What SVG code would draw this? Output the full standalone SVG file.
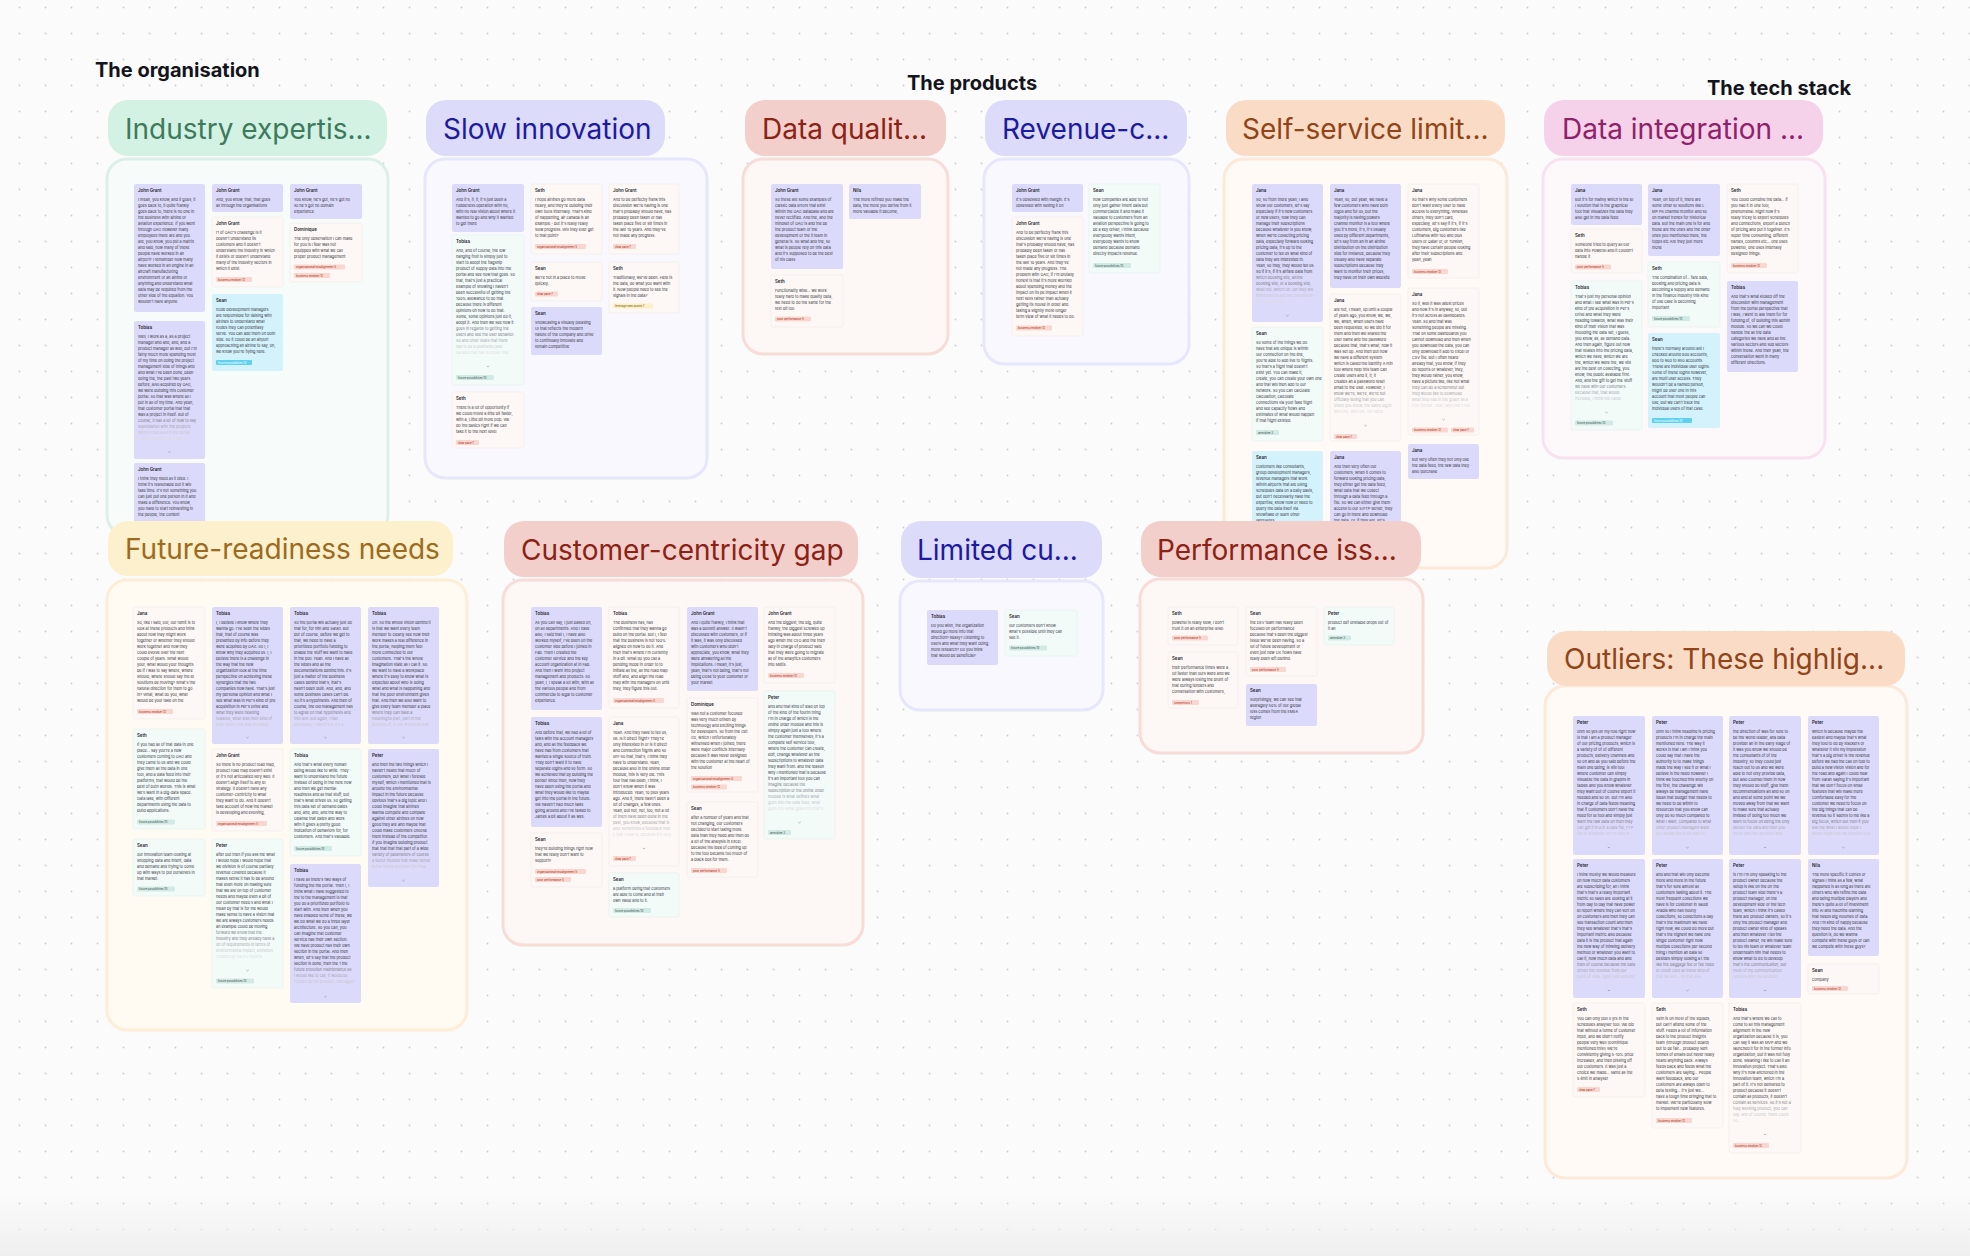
<svg xmlns="http://www.w3.org/2000/svg" width="1970" height="1256" viewBox="0 0 1970 1256">
<defs>
<pattern id="dots" width="26" height="26" patternUnits="userSpaceOnUse"><circle cx="19.5" cy="7.5" r="1" fill="#cfcfd4"/></pattern>
<linearGradient id="btm" x1="0" y1="0" x2="0" y2="1"><stop offset="0" stop-color="#f1f1f1" stop-opacity="0"/><stop offset="1" stop-color="#efefef"/></linearGradient>
<style>
.ttl{font:700 20px Inter,"Liberation Sans",sans-serif;fill:#14141c}
.hd{rx:20px}
.ht{font:400 28px Inter,"Liberation Sans",sans-serif}
.box{stroke-width:3px;rx:20px}
.cp{fill:#dcdafb;rx:2px}
.cc{fill:#fdf8f5;stroke:#f2ebe7;stroke-width:.6px;rx:2px}
.cm{fill:#f3fbf9;stroke:#e3f1ed;stroke-width:.6px;rx:2px}
.cy{fill:#d3f2fb;rx:2px}
.n{font:600 4.4px Inter,"Liberation Sans",sans-serif;fill:#23232b}
.b{font:400 3.8px Inter,"Liberation Sans",sans-serif;fill:#35353e}
.f1{fill:#7c7c86}.f2{fill:#a6a6b0}.f3{fill:#c8c8ce}.f4{fill:#dddde2}
.tr{fill:#f9d7d0;rx:1.2px}.tg{fill:#d3e9e3;rx:1.2px}.ty{fill:#fdefc8;rx:1.2px}.tc{fill:#5fd1ee;rx:1.2px}
.t{font:500 2.8px Inter,"Liberation Sans",sans-serif}
.tR{fill:#b3412d}.tG{fill:#48655e}.tY{fill:#8a6a1c}.tC{fill:#eafcff}
.ch{fill:none;stroke:#6c6c76;stroke-width:.45px}
</style>
</defs>
<g id="background">
<rect width="1970" height="1256" fill="#fbfbfb"/>
<rect width="1970" height="1256" fill="url(#dots)"/>
<rect y="1190" width="1970" height="66" fill="url(#btm)"/>
</g>
<g id="titles">
<text class="ttl" x="95" y="77">The organisation</text>
<text class="ttl" x="907" y="90">The products</text>
<text class="ttl" x="1707" y="95">The tech stack</text>
</g>
<g id="connectors"/>

<!-- ============ Industry expertise ============ -->
<g id="cluster-industry">
<rect class="box" x="107" y="159" width="281" height="376" fill="#f7fcfa" stroke="#dcefe9"/>
<g id="ie-c1" transform="translate(134 184)"><rect class="cp" width="71" height="128"/><text class="n" x="4" y="7.5">John Grant</text><text class="b" y="16.5"><tspan x="4">I mean, you know, and it goes, it</tspan><tspan x="4" dy="6">goes back to, it quite frankly</tspan><tspan x="4" dy="6">goes back to, there is no one in</tspan><tspan x="4" dy="6">the business with airline or</tspan><tspan x="4" dy="6">aviation experience. If you went</tspan><tspan x="4" dy="6">through OAG however many</tspan><tspan x="4" dy="6">employees there are and you</tspan><tspan x="4" dy="6">are, you know, you put a matrix</tspan><tspan x="4" dy="6">and said, how many of these</tspan><tspan x="4" dy="6">people have worked in an</tspan><tspan x="4" dy="6">airport? I remember how many</tspan><tspan x="4" dy="6">have worked in an engine in an</tspan><tspan x="4" dy="6">aircraft manufacturing</tspan><tspan x="4" dy="6">environment or an airline or</tspan><tspan x="4" dy="6">anything and understand what</tspan><tspan x="4" dy="6">data may be required from the</tspan><tspan x="4" dy="6">other side of the equation. You</tspan><tspan x="4" dy="6">wouldn't have anyone</tspan></text></g>
<g id="ie-c2" transform="translate(134 321)"><rect class="cp" width="71" height="138"/><text class="n" x="4" y="7.5">Tobias</text><text class="b" y="16.5"><tspan x="4">Well, I work as a, as a project</tspan><tspan x="4" dy="6">manager and and, and, and a</tspan><tspan x="4" dy="6">product manager as well, but I'm</tspan><tspan x="4" dy="6">fairly much more spending most</tspan><tspan x="4" dy="6">of my time on doing the project</tspan><tspan x="4" dy="6">management side of things and</tspan><tspan x="4" dy="6">and what I've been done, been</tspan><tspan x="4" dy="6">doing the, the past two years</tspan><tspan x="4" dy="6">before, also acquired by OAG,</tspan><tspan x="4" dy="6">we were building this customer</tspan><tspan x="4" dy="6">portal. So that was where all I</tspan><tspan x="4" dy="6">put in all of my time. And yeah,</tspan><tspan x="4" dy="6">that customer portal that that</tspan><tspan x="4" dy="6">was a project in itself. But of</tspan><tspan x="4" dy="6" class="f1">course, it has a lot of how to say</tspan><tspan x="4" dy="6" class="f2">subsidiaries with the projects</tspan><tspan x="4" dy="6" class="f3">within it because it the portal</tspan><tspan x="4" dy="6" class="f4">shows the whole is what I</tspan></text><path class="ch" d="M34.3 130.5l1.2 1l1.2 -1"/></g>
<g id="ie-c3" transform="translate(134 463)"><rect class="cp" width="71" height="75"/><text class="n" x="4" y="7.5">John Grant</text><text class="b" y="16.5"><tspan x="4">I think they need as it died. I</tspan><tspan x="4" dy="6">think it's reasonable but it will</tspan><tspan x="4" dy="6">take time. It's not something you</tspan><tspan x="4" dy="6">can just put one person in it and</tspan><tspan x="4" dy="6">make a difference. You know,</tspan><tspan x="4" dy="6">you have to start reinvesting in</tspan><tspan x="4" dy="6">the people, the context</tspan></text></g>
<g id="ie-c4" transform="translate(212 184)"><rect class="cp" width="71" height="28"/><text class="n" x="4" y="7.5">John Grant</text><text class="b" y="16.5"><tspan x="4">And, you know, that, that goes</tspan><tspan x="4" dy="6">all through the organisations</tspan></text></g>
<g id="ie-c5" transform="translate(212 217)"><rect class="cc" width="71" height="70"/><text class="n" x="4" y="7.5">John Grant</text><text class="b" y="16.5"><tspan x="4">r1 of OAG's challenge is it</tspan><tspan x="4" dy="6">doesn't understand its</tspan><tspan x="4" dy="6">customers and it doesn't</tspan><tspan x="4" dy="6">understand the industry in which</tspan><tspan x="4" dy="6">it exists or doesn't understand</tspan><tspan x="4" dy="6">many of the industry sectors in</tspan><tspan x="4" dy="6">which it exist.</tspan></text><g transform="translate(4 60)"><rect class="tr" width="36" height="5"/><text class="t tR" x="2" y="3.5">business mindset 12</text></g></g>
<g id="ie-c6" transform="translate(212 294)"><rect class="cy" width="71" height="77"/><text class="n" x="4" y="7.5">Sean</text><text class="b" y="16.5"><tspan x="4">route development managers</tspan><tspan x="4" dy="6">are responsible for liaising with</tspan><tspan x="4" dy="6">airlines to understand what</tspan><tspan x="4" dy="6">routes they can potentially</tspan><tspan x="4" dy="6">serve. You can add them on both</tspan><tspan x="4" dy="6">side. So it could be an airport</tspan><tspan x="4" dy="6">approaching an airline to say, oh,</tspan><tspan x="4" dy="6">we know you're flying here.</tspan></text><g transform="translate(4 66)"><rect class="tc" width="36" height="5"/><text class="t tC" x="2" y="3.5">future possibilities 10</text></g></g>
<g id="ie-c7" transform="translate(290 184)"><rect class="cp" width="72" height="35"/><text class="n" x="4" y="7.5">John Grant</text><text class="b" y="16.5"><tspan x="4">You know, he's got, he's got no</tspan><tspan x="4" dy="6">so he's got no domain</tspan><tspan x="4" dy="6">experience</tspan></text></g>
<g id="ie-c8" transform="translate(290 223)"><rect class="cc" width="72" height="59"/><text class="n" x="4" y="7.5">Dominique</text><text class="b" y="16.5"><tspan x="4">The only observation I can make</tspan><tspan x="4" dy="6">for you is I fear was not</tspan><tspan x="4" dy="6">equipped with what we call</tspan><tspan x="4" dy="6">proper product management</tspan></text><g transform="translate(4 41.5)"><rect class="tr" width="51" height="5"/><text class="t tR" x="2" y="3.5">organisational misalignment 5</text></g><g transform="translate(4 50)"><rect class="tr" width="36" height="5"/><text class="t tR" x="2" y="3.5">business mindset 12</text></g></g>
<g id="ie-header"><rect class="hd" x="108" y="100" width="279" height="56" fill="#d3f2e4"/><text class="ht" x="125" y="139" fill="#3d7a5c">Industry expertis...</text></g>
</g>

<!-- ============ Slow innovation ============ -->
<g id="cluster-slow-innovation">
<rect class="box" x="425" y="159" width="282" height="319" fill="#f8f8fe" stroke="#e6e6fc"/>
<g id="si-c1" transform="translate(452 184)"><rect class="cp" width="72" height="48"/><text class="n" x="4" y="7.5">John Grant</text><text class="b" y="16.5"><tspan x="4">And it's, it, it, it's just been a</tspan><tspan x="4" dy="6">rudderless operation with no,</tspan><tspan x="4" dy="6">with no real vision about where it</tspan><tspan x="4" dy="6">wanted to go and why it wanted</tspan><tspan x="4" dy="6">to get there</tspan></text></g>
<g id="si-c2" transform="translate(452 235)"><rect class="cm" width="72" height="150"/><text class="n" x="4" y="7.5">Tobias</text><text class="b" y="16.5"><tspan x="4">And, and of course, the low</tspan><tspan x="4" dy="6">hanging fruit is simply just to</tspan><tspan x="4" dy="6">start to adopt the flagship</tspan><tspan x="4" dy="6">product of supply data into the</tspan><tspan x="4" dy="6">portal and see how that goes. So</tspan><tspan x="4" dy="6">that, that's just a practical</tspan><tspan x="4" dy="6">example of showing I haven't</tspan><tspan x="4" dy="6">been successful of getting the</tspan><tspan x="4" dy="6">100% allowance to do that.</tspan><tspan x="4" dy="6">because there is different</tspan><tspan x="4" dy="6">opinions on how to do that.</tspan><tspan x="4" dy="6">Some, some opinions just do it,</tspan><tspan x="4" dy="6">adopt it. And then we see how it</tspan><tspan x="4" dy="6" class="f1">goes in regards to getting the</tspan><tspan x="4" dy="6" class="f1">users and see the user behavior.</tspan><tspan x="4" dy="6" class="f2">So and other sides that there</tspan><tspan x="4" dy="6" class="f3">has to be a business case</tspan><tspan x="4" dy="6" class="f4">backed that has to prove that.</tspan></text><path class="ch" d="M34.8 131l1.2 1l1.2 -1"/><g transform="translate(4 140)"><rect class="tg" width="38" height="5"/><text class="t tG" x="2" y="3.5">future possibilities 10</text></g></g>
<g id="si-c3" transform="translate(452 392)"><rect class="cc" width="72" height="56"/><text class="n" x="4" y="7.5">Seth</text><text class="b" y="16.5"><tspan x="4">There is a lot of opportunity if</tspan><tspan x="4" dy="6">we could move a little bit faster,</tspan><tspan x="4" dy="6">with a, Little bit more pop. We</tspan><tspan x="4" dy="6">do the basics right if we can</tspan><tspan x="4" dy="6">take it to the next level</tspan></text><g transform="translate(4 48)"><rect class="tr" width="23" height="5"/><text class="t tR" x="2" y="3.5">slow pace 7</text></g></g>
<g id="si-c4" transform="translate(531 184)"><rect class="cc" width="71" height="70"/><text class="n" x="4" y="7.5">Seth</text><text class="b" y="16.5"><tspan x="4">I hope airlines go more data</tspan><tspan x="4" dy="6">heavy, and they're building their</tspan><tspan x="4" dy="6">own tools internally. That's kind</tspan><tspan x="4" dy="6">of happening, air canada is an</tspan><tspan x="4" dy="6">example - but it's really really</tspan><tspan x="4" dy="6">slow progress. Will they ever get</tspan><tspan x="4" dy="6">to that point?</tspan></text><g transform="translate(4 60)"><rect class="tr" width="51" height="5"/><text class="t tR" x="2" y="3.5">organisational misalignment 5</text></g></g>
<g id="si-c5" transform="translate(531 262)"><rect class="cc" width="71" height="39"/><text class="n" x="4" y="7.5">Sean</text><text class="b" y="16.5"><tspan x="4">we're not in a place to move</tspan><tspan x="4" dy="6">quickly.</tspan></text><g transform="translate(4 29.5)"><rect class="tr" width="23" height="5"/><text class="t tR" x="2" y="3.5">slow pace 7</text></g></g>
<g id="si-c6" transform="translate(531 307)"><rect class="cp" width="71" height="48"/><text class="n" x="4" y="7.5">Sean</text><text class="b" y="16.5"><tspan x="4">Showcasing a visually pleasing</tspan><tspan x="4" dy="6">UI that reflects the modern</tspan><tspan x="4" dy="6">nature of the company and drive</tspan><tspan x="4" dy="6">to continually innovate and</tspan><tspan x="4" dy="6">remain competitive</tspan></text></g>
<g id="si-c7" transform="translate(609 184)"><rect class="cc" width="70" height="70"/><text class="n" x="4" y="7.5">John Grant</text><text class="b" y="16.5"><tspan x="4">And to be perfectly frank this</tspan><tspan x="4" dy="6">discussion we're having is one</tspan><tspan x="4" dy="6">that's probably should have, has</tspan><tspan x="4" dy="6">probably been taken or has</tspan><tspan x="4" dy="6">taken place five or six times in</tspan><tspan x="4" dy="6">the last 10 years. And they've</tspan><tspan x="4" dy="6">not made any progress.</tspan></text><g transform="translate(4 60)"><rect class="tr" width="23" height="5"/><text class="t tR" x="2" y="3.5">slow pace 7</text></g></g>
<g id="si-c8" transform="translate(609 262)"><rect class="cc" width="70" height="51"/><text class="n" x="4" y="7.5">Seth</text><text class="b" y="16.5"><tspan x="4">Traditionally, we've been. Here is</tspan><tspan x="4" dy="6">the data, do what you want with</tspan><tspan x="4" dy="6">it. Now people need to see the</tspan><tspan x="4" dy="6">signals in the data?</tspan></text><g transform="translate(4 41.5)"><rect class="ty" width="40" height="5"/><text class="t tY" x="2" y="3.5">leverage own assets 1</text></g></g>
<g id="si-header"><rect class="hd" x="426" y="100" width="239" height="56" fill="#dcdbfa"/><text class="ht" x="443" y="139" fill="#1c1aa0">Slow innovation</text></g>
</g>

<!-- ============ Data quality ============ -->
<g id="cluster-data-quality">
<rect class="box" x="743" y="159" width="205" height="195" fill="#fdf7f6" stroke="#f8dcd8"/>
<g id="dq-c1" transform="translate(771 184)"><rect class="cp" width="72" height="85"/><text class="n" x="4" y="7.5">John Grant</text><text class="b" y="16.5"><tspan x="4">So these are some examples of</tspan><tspan x="4" dy="6">classic data errors that exist</tspan><tspan x="4" dy="6">within the OAG database and are</tspan><tspan x="4" dy="6">never rectified. And the, and the</tspan><tspan x="4" dy="6">mindset of OAG is and the be</tspan><tspan x="4" dy="6">the product team or the</tspan><tspan x="4" dy="6">development or the it team in</tspan><tspan x="4" dy="6">general is. So what and the, so</tspan><tspan x="4" dy="6">what is people rely on this data</tspan><tspan x="4" dy="6">and it's supposed to be the best</tspan><tspan x="4" dy="6">of his class</tspan></text></g>
<g id="dq-c2" transform="translate(849 184)"><rect class="cp" width="72" height="35"/><text class="n" x="4" y="7.5">Nils</text><text class="b" y="16.5"><tspan x="4">The more refined you make the</tspan><tspan x="4" dy="6">data, the more you derive from it</tspan><tspan x="4" dy="6">more valuable it become,</tspan></text></g>
<g id="dq-c3" transform="translate(771 275)"><rect class="cc" width="72" height="52"/><text class="n" x="4" y="7.5">Seth</text><text class="b" y="16.5"><tspan x="4">Functionality wise... we work</tspan><tspan x="4" dy="6">really hard to make quality data,</tspan><tspan x="4" dy="6">we need to do the same for the</tspan><tspan x="4" dy="6">rest bit too</tspan></text><g transform="translate(4 41.5)"><rect class="tr" width="36" height="5"/><text class="t tR" x="2" y="3.5">poor performance 5</text></g></g>
<g id="dq-header"><rect class="hd" x="745" y="100" width="201" height="56" fill="#f3cfcb"/><text class="ht" x="762" y="139" fill="#8a2215">Data qualit...</text></g>
</g>

<!-- ============ Revenue ============ -->
<g id="cluster-revenue">
<rect class="box" x="984" y="159" width="205" height="205" fill="#f8f8fe" stroke="#e6e6fc"/>
<g id="rv-c1" transform="translate(1012 184)"><rect class="cp" width="71" height="28"/><text class="n" x="4" y="7.5">John Grant</text><text class="b" y="16.5"><tspan x="4">It's obsessed with margin. It's</tspan><tspan x="4" dy="6">obsessed with selling it on</tspan></text></g>
<g id="rv-c2" transform="translate(1012 217)"><rect class="cc" width="71" height="119"/><text class="n" x="4" y="7.5">John Grant</text><text class="b" y="16.5"><tspan x="4">And to be perfectly frank this</tspan><tspan x="4" dy="6">discussion we're having is one</tspan><tspan x="4" dy="6">that's probably should have, has</tspan><tspan x="4" dy="6">probably been taken or has</tspan><tspan x="4" dy="6">taken place five or six times in</tspan><tspan x="4" dy="6">the last 10 years. And they've</tspan><tspan x="4" dy="6">not made any progress. The</tspan><tspan x="4" dy="6">problem with OAG, if I'm brutally</tspan><tspan x="4" dy="6">honest is that it's more worried</tspan><tspan x="4" dy="6">about spending money and the</tspan><tspan x="4" dy="6">impact on its pe impact when it</tspan><tspan x="4" dy="6">next sells rather than actually</tspan><tspan x="4" dy="6">getting its house in order and</tspan><tspan x="4" dy="6">taking a slightly more longer</tspan><tspan x="4" dy="6">term view of what it needs to do.</tspan></text><g transform="translate(4 108.5)"><rect class="tr" width="36" height="5"/><text class="t tR" x="2" y="3.5">business mindset 12</text></g></g>
<g id="rv-c3" transform="translate(1089 184)"><rect class="cm" width="71" height="89"/><text class="n" x="4" y="7.5">Sean</text><text class="b" y="16.5"><tspan x="4">how companies are able to not</tspan><tspan x="4" dy="6">only just gather intent data but</tspan><tspan x="4" dy="6">commercialize it and make it</tspan><tspan x="4" dy="6">valuable to customers from an</tspan><tspan x="4" dy="6">aviation perspective is going to</tspan><tspan x="4" dy="6">be a key driver, I think because</tspan><tspan x="4" dy="6">everybody wants intent,</tspan><tspan x="4" dy="6">everybody wants to know</tspan><tspan x="4" dy="6">demand because demand</tspan><tspan x="4" dy="6">directly impacts revenue.</tspan></text><g transform="translate(4 79)"><rect class="tg" width="38" height="5"/><text class="t tG" x="2" y="3.5">future possibilities 10</text></g></g>
<g id="rv-header"><rect class="hd" x="985" y="100" width="202" height="56" fill="#dcdbfa"/><text class="ht" x="1002" y="139" fill="#1c1aa0">Revenue-c...</text></g>
</g>

<!-- ============ Self-service ============ -->
<g id="cluster-self-service">
<rect class="box" x="1224" y="159" width="283" height="409" fill="#fffaf6" stroke="#fde9d8"/>
<g id="ss-c1" transform="translate(1252 184)"><rect class="cp" width="71" height="138"/><text class="n" x="4" y="7.5">Jana</text><text class="b" y="16.5"><tspan x="4">So, so from there yeah, I also</tspan><tspan x="4" dy="6">show our customers, let's say</tspan><tspan x="4" dy="6">especially if it's new customers</tspan><tspan x="4" dy="6">or new users, how they can</tspan><tspan x="4" dy="6">manage their subscriptions</tspan><tspan x="4" dy="6">because whatever is you know,</tspan><tspan x="4" dy="6">when we're collecting pricing</tspan><tspan x="4" dy="6">data, especially forward looking</tspan><tspan x="4" dy="6">pricing data, it's up to the</tspan><tspan x="4" dy="6">customer to tell us what kind of</tspan><tspan x="4" dy="6">data they are interested in.</tspan><tspan x="4" dy="6">Yeah, so they, they would tell us.</tspan><tspan x="4" dy="6">So if it's, if it's airfare data from</tspan><tspan x="4" dy="6" class="f1">which booking site, airline</tspan><tspan x="4" dy="6" class="f1">booking site, or a booking site,</tspan><tspan x="4" dy="6" class="f2">what not, which on. OR they are</tspan><tspan x="4" dy="6" class="f3">interested in and the conditions?</tspan><tspan x="4" dy="6" class="f4">So they would be ...</tspan></text><path class="ch" d="M34.3 131l1.2 1l1.2 -1"/></g>
<g id="ss-c2" transform="translate(1252 327)"><rect class="cm" width="71" height="114"/><text class="n" x="4" y="7.5">Sean</text><text class="b" y="16.5"><tspan x="4">So some of the things we do</tspan><tspan x="4" dy="6">have that are unique is within</tspan><tspan x="4" dy="6">our connection on the line,</tspan><tspan x="4" dy="6">you're able to add live to flights.</tspan><tspan x="4" dy="6">So that's a flight that doesn't</tspan><tspan x="4" dy="6">exist yet. You can make it,</tspan><tspan x="4" dy="6">create, you can create your own one</tspan><tspan x="4" dy="6">and that will then add to our</tspan><tspan x="4" dy="6">network. So you can calculate</tspan><tspan x="4" dy="6">calculation, calculate</tspan><tspan x="4" dy="6">connections via your fake flight</tspan><tspan x="4" dy="6">and see capacity flows and</tspan><tspan x="4" dy="6">estimates of what would happen</tspan><tspan x="4" dy="6">if that flight existed.</tspan></text><g transform="translate(4 103)"><rect class="tg" width="23" height="5"/><text class="t tG" x="2" y="3.5">anecdote 3</text></g></g>
<g id="ss-c3" transform="translate(1252 451)"><rect class="cy" width="71" height="105"/><text class="n" x="4" y="7.5">Sean</text><text class="b" y="16.5"><tspan x="4">customers like consultants,</tspan><tspan x="4" dy="6">group development managers,</tspan><tspan x="4" dy="6">revenue managers that work</tspan><tspan x="4" dy="6">within airports that are using</tspan><tspan x="4" dy="6">schedules data on a daily basis,</tspan><tspan x="4" dy="6">but don't necessarily have the</tspan><tspan x="4" dy="6">expertise, know how or need to</tspan><tspan x="4" dy="6">query the data itself via</tspan><tspan x="4" dy="6">snowflake or learn other</tspan><tspan x="4" dy="6">languages</tspan></text></g>
<g id="ss-c4" transform="translate(1330 184)"><rect class="cp" width="71" height="104"/><text class="n" x="4" y="7.5">Jana</text><text class="b" y="16.5"><tspan x="4">Yeah, so, but yeah, we have a</tspan><tspan x="4" dy="6">few customers who have both</tspan><tspan x="4" dy="6">logos and for us, but the</tspan><tspan x="4" dy="6">majority is having powers</tspan><tspan x="4" dy="6">channel monitor is a tool where</tspan><tspan x="4" dy="6">you it's more, it's, it's usually</tspan><tspan x="4" dy="6">used by different departments,</tspan><tspan x="4" dy="6">let's say from an in an airline</tspan><tspan x="4" dy="6">distribution on the distribution</tspan><tspan x="4" dy="6">side for instance, because they</tspan><tspan x="4" dy="6">usually also have separate</tspan><tspan x="4" dy="6">subscriptions because they</tspan><tspan x="4" dy="6">want to monitor their prices,</tspan><tspan x="4" dy="6">they have on their own website</tspan></text></g>
<g id="ss-c5" transform="translate(1330 294)"><rect class="cc" width="71" height="147"/><text class="n" x="4" y="7.5">Jana</text><text class="b" y="16.5"><tspan x="4">are not, I mean, up until a couple</tspan><tspan x="4" dy="6">of years ago, you know, we, we,</tspan><tspan x="4" dy="6">we, when, when users have</tspan><tspan x="4" dy="6">been requested, so we did it for</tspan><tspan x="4" dy="6">them and then we shared the</tspan><tspan x="4" dy="6">user name and the password</tspan><tspan x="4" dy="6">because that, that's what, how it</tspan><tspan x="4" dy="6">was set up. And then but now</tspan><tspan x="4" dy="6">we have a different system</tspan><tspan x="4" dy="6">which is called the identity A min</tspan><tspan x="4" dy="6">tool where help this team can</tspan><tspan x="4" dy="6">create users and it, it, it</tspan><tspan x="4" dy="6">creates an a password reset</tspan><tspan x="4" dy="6">email to the user. However, I</tspan><tspan x="4" dy="6" class="f1">know we're, we're, we're not</tspan><tspan x="4" dy="6" class="f2">officially telling that you can</tspan><tspan x="4" dy="6" class="f3">share you know, the same log in</tspan><tspan x="4" dy="6" class="f4">with the, with the, the same</tspan></text><path class="ch" d="M34.3 131l1.2 1l1.2 -1"/><g transform="translate(4 140)"><rect class="tr" width="23" height="5"/><text class="t tR" x="2" y="3.5">slow pace 7</text></g></g>
<g id="ss-c9" transform="translate(1330 451)"><rect class="cp" width="71" height="105"/><text class="n" x="4" y="7.5">Jana</text><text class="b" y="16.5"><tspan x="4">And then very often our</tspan><tspan x="4" dy="6">customers, when it comes to</tspan><tspan x="4" dy="6">forward looking pricing data,</tspan><tspan x="4" dy="6">they either get the data feed,</tspan><tspan x="4" dy="6">what data that we collect</tspan><tspan x="4" dy="6">through a data feed through a</tspan><tspan x="4" dy="6">file. So we can either give them</tspan><tspan x="4" dy="6">access to our S/FTP server, they</tspan><tspan x="4" dy="6">can go in there and download</tspan><tspan x="4" dy="6">the data. Or, if they are, let's</tspan></text></g>
<g id="ss-c6" transform="translate(1408 184)"><rect class="cc" width="71" height="94"/><text class="n" x="4" y="7.5">Jana</text><text class="b" y="16.5"><tspan x="4">So that's why some customers</tspan><tspan x="4" dy="6">don't want every user to have</tspan><tspan x="4" dy="6">access to everything. Whereas</tspan><tspan x="4" dy="6">others, they don't care,</tspan><tspan x="4" dy="6">especially, let's say if it's, if it's</tspan><tspan x="4" dy="6">customers, big customers like</tspan><tspan x="4" dy="6">Lufthansa with 100 and plus</tspan><tspan x="4" dy="6">users or Qatar or, or Turkish,</tspan><tspan x="4" dy="6">they have certain people looking</tspan><tspan x="4" dy="6">after their subscriptions and</tspan><tspan x="4" dy="6">yeah, yeah</tspan></text><g transform="translate(4 85)"><rect class="tr" width="36" height="5"/><text class="t tR" x="2" y="3.5">business mindset 12</text></g></g>
<g id="ss-c7" transform="translate(1408 288)"><rect class="cc" width="71" height="147"/><text class="n" x="4" y="7.5">Jana</text><text class="b" y="16.5"><tspan x="4">So it, well it was latest prices</tspan><tspan x="4" dy="6">and now it's in anyway, so, but</tspan><tspan x="4" dy="6">it's not across all dashboards.</tspan><tspan x="4" dy="6">Yeah. So and that was</tspan><tspan x="4" dy="6">something people are missing.</tspan><tspan x="4" dy="6">That on some dashboards you</tspan><tspan x="4" dy="6">cannot download and then when</tspan><tspan x="4" dy="6">you download the data, you can</tspan><tspan x="4" dy="6">only download it add to Excel or</tspan><tspan x="4" dy="6">CSV file. But I often heard</tspan><tspan x="4" dy="6">already that, you know, if they</tspan><tspan x="4" dy="6">do reports or whatever, they,</tspan><tspan x="4" dy="6">they would rather, you know,</tspan><tspan x="4" dy="6">have a picture like, like not what</tspan><tspan x="4" dy="6" class="f1">they can do a screenshot but</tspan><tspan x="4" dy="6" class="f2">they would like to download</tspan><tspan x="4" dy="6" class="f3">what they see in the graph as a</tspan><tspan x="4" dy="6" class="f4">PDF format. Yeah, and that's not</tspan></text><path class="ch" d="M34.3 131l1.2 1l1.2 -1"/><g transform="translate(4 139.5)"><rect class="tr" width="36" height="5"/><text class="t tR" x="2" y="3.5">business mindset 12</text></g><g transform="translate(43 139.5)"><rect class="tr" width="23" height="5"/><text class="t tR" x="2" y="3.5">slow pace 7</text></g></g>
<g id="ss-c8" transform="translate(1408 444)"><rect class="cp" width="71" height="35"/><text class="n" x="4" y="7.5">Jana</text><text class="b" y="16.5"><tspan x="4">But very often they not only use</tspan><tspan x="4" dy="6">the data feed, the raw data they</tspan><tspan x="4" dy="6">also purchase</tspan></text></g>
<g id="ss-header"><rect class="hd" x="1226" y="100" width="279" height="56" fill="#fadcc6"/><text class="ht" x="1242" y="139" fill="#8f4519">Self-service limit...</text></g>
</g>

<!-- ============ Data integration ============ -->
<g id="cluster-data-integration">
<rect class="box" x="1543" y="159" width="282" height="299" fill="#fdf9fb" stroke="#f9e2f0"/>
<g id="di-c1" transform="translate(1571 184)"><rect class="cp" width="71" height="41"/><text class="n" x="4" y="7.5">Jana</text><text class="b" y="16.5"><tspan x="4">But it's for mainly which is the BI</tspan><tspan x="4" dy="6">I solution that is the graphical</tspan><tspan x="4" dy="6">tool that visualizes the data they</tspan><tspan x="4" dy="6">also get in the data feed</tspan></text></g>
<g id="di-c2" transform="translate(1571 229)"><rect class="cc" width="71" height="44"/><text class="n" x="4" y="7.5">Seth</text><text class="b" y="16.5"><tspan x="4">Someone tried to query all our</tspan><tspan x="4" dy="6">data into PowerBI and it couldn't</tspan><tspan x="4" dy="6">handle it</tspan></text><g transform="translate(4 35.5)"><rect class="tr" width="36" height="5"/><text class="t tR" x="2" y="3.5">poor performance 5</text></g></g>
<g id="di-c3" transform="translate(1571 281)"><rect class="cm" width="71" height="149"/><text class="n" x="4" y="7.5">Tobias</text><text class="b" y="16.5"><tspan x="4">That's just my personal opinion</tspan><tspan x="4" dy="6">and what I see what was in Per's</tspan><tspan x="4" dy="6">kind of pre acquisition in Per's</tspan><tspan x="4" dy="6">Drive and what they were</tspan><tspan x="4" dy="6">heading towards, what was their</tspan><tspan x="4" dy="6">kind of their vision that was</tspan><tspan x="4" dy="6">including the data set, I guess,</tspan><tspan x="4" dy="6">you know, as, as demand data.</tspan><tspan x="4" dy="6">And then again, figure out how</tspan><tspan x="4" dy="6">that relates into the pricing data,</tspan><tspan x="4" dy="6">which we have, which we are</tspan><tspan x="4" dy="6">the, which we were the, we still</tspan><tspan x="4" dy="6">are the best on collecting, you</tspan><tspan x="4" dy="6">know, the public available first.</tspan><tspan x="4" dy="6">And, and the gift to get the stuff</tspan><tspan x="4" dy="6" class="f1">we have with our customers.</tspan><tspan x="4" dy="6" class="f2">Because that, that would</tspan><tspan x="4" dy="6" class="f3">increase, I think the value</tspan></text><path class="ch" d="M34.3 131l1.2 1l1.2 -1"/><g transform="translate(4 139.5)"><rect class="tg" width="38" height="5"/><text class="t tG" x="2" y="3.5">future possibilities 10</text></g></g>
<g id="di-c4" transform="translate(1648 184)"><rect class="cp" width="72" height="72"/><text class="n" x="4" y="7.5">Jana</text><text class="b" y="16.5"><tspan x="4">Yeah, on top of it, there are</tspan><tspan x="4" dy="6">some other BI solutions like L</tspan><tspan x="4" dy="6">MP PS channel monitor and so</tspan><tspan x="4" dy="6">on market trends for historical</tspan><tspan x="4" dy="6">data. But the main one is for and</tspan><tspan x="4" dy="6">those are the ones and the other</tspan><tspan x="4" dy="6">ones you mentioned there, the</tspan><tspan x="4" dy="6">topps etc Are they just more</tspan><tspan x="4" dy="6">niche</tspan></text></g>
<g id="di-c5" transform="translate(1648 262)"><rect class="cm" width="72" height="65"/><text class="n" x="4" y="7.5">Seth</text><text class="b" y="16.5"><tspan x="4">The combination of... fare data,</tspan><tspan x="4" dy="6">booking and pricing data is</tspan><tspan x="4" dy="6">becoming a supply and demand.</tspan><tspan x="4" dy="6">In the finance industry this kind</tspan><tspan x="4" dy="6">of use case is becoming</tspan><tspan x="4" dy="6">important</tspan></text><g transform="translate(4 54)"><rect class="tg" width="38" height="5"/><text class="t tG" x="2" y="3.5">future possibilities 10</text></g></g>
<g id="di-c6" transform="translate(1648 333)"><rect class="cy" width="72" height="95"/><text class="n" x="4" y="7.5">Sean</text><text class="b" y="16.5"><tspan x="4">there's normally around last I</tspan><tspan x="4" dy="6">checked around 800 accounts,</tspan><tspan x="4" dy="6">800 to 900 to 950 accounts.</tspan><tspan x="4" dy="6">These are individual user logins.</tspan><tspan x="4" dy="6">Some of these logins however,</tspan><tspan x="4" dy="6">are multi user access. They</tspan><tspan x="4" dy="6">wouldn't be a named person,</tspan><tspan x="4" dy="6">might be user one in this</tspan><tspan x="4" dy="6">account that most people can</tspan><tspan x="4" dy="6">use, but we can't track the</tspan><tspan x="4" dy="6">individual users of that case.</tspan></text><g transform="translate(4 85)"><rect class="tc" width="40" height="5"/><text class="t tC" x="2" y="3.5">future possibilities 10</text></g></g>
<g id="di-c7" transform="translate(1727 184)"><rect class="cc" width="71" height="89"/><text class="n" x="4" y="7.5">Seth</text><text class="b" y="16.5"><tspan x="4">You could combine the data... if</tspan><tspan x="4" dy="6">you had it in one tool,</tspan><tspan x="4" dy="6">phenomenal. Right now it's</tspan><tspan x="4" dy="6">really tricky to export schedules</tspan><tspan x="4" dy="6">and connections, export a bunch</tspan><tspan x="4" dy="6">of pricing and put it together. It's</tspan><tspan x="4" dy="6">super time consuming, different</tspan><tspan x="4" dy="6">names, columns etc... one uses</tspan><tspan x="4" dy="6">powerBI, one uses internally</tspan><tspan x="4" dy="6">designed things.</tspan></text><g transform="translate(4 79)"><rect class="tr" width="36" height="5"/><text class="t tR" x="2" y="3.5">business mindset 12</text></g></g>
<g id="di-c8" transform="translate(1727 281)"><rect class="cp" width="71" height="91"/><text class="n" x="4" y="7.5">Tobias</text><text class="b" y="16.5"><tspan x="4">And that's what kicked off the</tspan><tspan x="4" dy="6">discussion with management</tspan><tspan x="4" dy="6">from the portal perspective that</tspan><tspan x="4" dy="6">I was, I went to ask them for for</tspan><tspan x="4" dy="6">funding of, of building this admin</tspan><tspan x="4" dy="6">module. So we can we could</tspan><tspan x="4" dy="6">handle the all the data</tspan><tspan x="4" dy="6">categories we have and all the</tspan><tspan x="4" dy="6">various sectors and sub sectors</tspan><tspan x="4" dy="6">within those. And then yeah, the</tspan><tspan x="4" dy="6">conversation went in many</tspan><tspan x="4" dy="6">different directions.</tspan></text></g>
<g id="di-header"><rect class="hd" x="1544" y="100" width="279" height="56" fill="#f5d2ea"/><text class="ht" x="1562" y="139" fill="#8e2169">Data integration ...</text></g>
</g>

<!-- ============ Future-readiness ============ -->
<g id="cluster-future-readiness">
<rect class="box" x="107" y="580" width="360" height="450" fill="#fffbf3" stroke="#fdeed8"/>
<g id="fr-c1" transform="translate(133 607)"><rect class="cc" width="72" height="112"/><text class="n" x="4" y="7.5">Jana</text><text class="b" y="16.5"><tspan x="4">So, like I said, our, our remit is to</tspan><tspan x="4" dy="6">look at these products and think</tspan><tspan x="4" dy="6">about how they might work</tspan><tspan x="4" dy="6">together or whether they should</tspan><tspan x="4" dy="6">work together and how they</tspan><tspan x="4" dy="6">could evolve over the next</tspan><tspan x="4" dy="6">couple of years. What would</tspan><tspan x="4" dy="6">your, what would your thoughts</tspan><tspan x="4" dy="6">be if I was to say where, where</tspan><tspan x="4" dy="6">should, where should say the BI</tspan><tspan x="4" dy="6">solutions be moving? What's the</tspan><tspan x="4" dy="6">natural direction for them to go</tspan><tspan x="4" dy="6">in? What, what do you, what</tspan><tspan x="4" dy="6">would be your take on the</tspan></text><g transform="translate(4 102)"><rect class="tr" width="36" height="5"/><text class="t tR" x="2" y="3.5">business mindset 12</text></g></g>
<g id="fr-c2" transform="translate(133 729)"><rect class="cm" width="72" height="100"/><text class="n" x="4" y="7.5">Seth</text><text class="b" y="16.5"><tspan x="4">If you had all of that data in one</tspan><tspan x="4" dy="6">place... say you're a new</tspan><tspan x="4" dy="6">customers coming to OAG and</tspan><tspan x="4" dy="6">they came to us and we could</tspan><tspan x="4" dy="6">give them all the data in one</tspan><tspan x="4" dy="6">tool, and a data feed into their</tspan><tspan x="4" dy="6">platforms, that would be the</tspan><tspan x="4" dy="6">best of both worlds. This is what</tspan><tspan x="4" dy="6">we'll want in a big-data space.</tspan><tspan x="4" dy="6">Data lake, with different</tspan><tspan x="4" dy="6">departments using the data to</tspan><tspan x="4" dy="6">build applications.</tspan></text><g transform="translate(4 90.5)"><rect class="tg" width="38" height="5"/><text class="t tG" x="2" y="3.5">future possibilities 10</text></g></g>
<g id="fr-c3" transform="translate(133 839)"><rect class="cm" width="72" height="57"/><text class="n" x="4" y="7.5">Sean</text><text class="b" y="16.5"><tspan x="4">our innovation team looking at</tspan><tspan x="4" dy="6">shopping data and intent, data</tspan><tspan x="4" dy="6">and demand and trying to come</tspan><tspan x="4" dy="6">up with ways to put ourselves in</tspan><tspan x="4" dy="6">that market.</tspan></text><g transform="translate(4 47.5)"><rect class="tg" width="38" height="5"/><text class="t tG" x="2" y="3.5">future possibilities 10</text></g></g>
<g id="fr-c4" transform="translate(212 607)"><rect class="cp" width="71" height="137"/><text class="n" x="4" y="7.5">Tobias</text><text class="b" y="16.5"><tspan x="4">I, I believe I know where they</tspan><tspan x="4" dy="6">wanna go. I've seen the slides</tspan><tspan x="4" dy="6">that, that of course was</tspan><tspan x="4" dy="6">presented by info before they</tspan><tspan x="4" dy="6">were acquired by OAG. So I, I</tspan><tspan x="4" dy="6">know why they acquired us. I, I</tspan><tspan x="4" dy="6">believe there is a challenge in</tspan><tspan x="4" dy="6">the way that the new</tspan><tspan x="4" dy="6">organization look at the time</tspan><tspan x="4" dy="6">perspective on achieving these</tspan><tspan x="4" dy="6">synergies that the two</tspan><tspan x="4" dy="6">companies now have. That's just</tspan><tspan x="4" dy="6">my personal opinion and what I</tspan><tspan x="4" dy="6">see what was in Per's kind of pre</tspan><tspan x="4" dy="6">acquisition in Per's Drive and</tspan><tspan x="4" dy="6" class="f1">what they were heading</tspan><tspan x="4" dy="6" class="f2">towards, what was their kind of</tspan><tspan x="4" dy="6" class="f3">their vision that was included</tspan></text><path class="ch" d="M34.3 130l1.2 1l1.2 -1"/></g>
<g id="fr-c5" transform="translate(212 749)"><rect class="cc" width="71" height="82"/><text class="n" x="4" y="7.5">John Grant</text><text class="b" y="16.5"><tspan x="4">So there is no product road map,</tspan><tspan x="4" dy="6">product road map doesn't exist</tspan><tspan x="4" dy="6">or it's not articulated very well. It</tspan><tspan x="4" dy="6">doesn't align itself to any BI</tspan><tspan x="4" dy="6">strategy. It doesn't have any</tspan><tspan x="4" dy="6">customer-Centricity to what</tspan><tspan x="4" dy="6">they want to do. And it doesn't</tspan><tspan x="4" dy="6">take account of how the market</tspan><tspan x="4" dy="6">is developing and evolving,</tspan></text><g transform="translate(4 72)"><rect class="tr" width="51" height="5"/><text class="t tR" x="2" y="3.5">organisational misalignment 5</text></g></g>
<g id="fr-c6" transform="translate(212 839)"><rect class="cm" width="71" height="149"/><text class="n" x="4" y="7.5">Peter</text><text class="b" y="16.5"><tspan x="4">after but then if you ask me what</tspan><tspan x="4" dy="6">I would hope I would hope that</tspan><tspan x="4" dy="6">we division is of course partially</tspan><tspan x="4" dy="6">revenue covered because it</tspan><tspan x="4" dy="6">makes sense it has to be around</tspan><tspan x="4" dy="6">that even more on making sure</tspan><tspan x="4" dy="6">that we are on top of customer</tspan><tspan x="4" dy="6">needs and maybe even a bit of</tspan><tspan x="4" dy="6">our customer need s and what I</tspan><tspan x="4" dy="6">mean by that is for me would</tspan><tspan x="4" dy="6">make sense to have a vision that</tspan><tspan x="4" dy="6">we are always customers needs</tspan><tspan x="4" dy="6">an example could be moving</tspan><tspan x="4" dy="6" class="f1">forward we know that the</tspan><tspan x="4" dy="6" class="f1">industry and they already have a</tspan><tspan x="4" dy="6" class="f2">lot of requirements in terms of</tspan><tspan x="4" dy="6" class="f3">environmental impact, emission</tspan><tspan x="4" dy="6" class="f4">created by the EU reports</tspan></text><path class="ch" d="M34.3 131l1.2 1l1.2 -1"/><g transform="translate(4 139.5)"><rect class="tg" width="38" height="5"/><text class="t tG" x="2" y="3.5">future possibilities 10</text></g></g>
<g id="fr-c7" transform="translate(290 607)"><rect class="cp" width="71" height="137"/><text class="n" x="4" y="7.5">Tobias</text><text class="b" y="16.5"><tspan x="4">So the portal will actually just do</tspan><tspan x="4" dy="6">that for, for him and Sarah. But</tspan><tspan x="4" dy="6">but of course, before we get to</tspan><tspan x="4" dy="6">that, we need to have a</tspan><tspan x="4" dy="6">prioritized portfolio funding to</tspan><tspan x="4" dy="6">enable the stuff we want to have</tspan><tspan x="4" dy="6">in the poll. Yeah. And I have all</tspan><tspan x="4" dy="6">the slides and all the</tspan><tspan x="4" dy="6">documentations behind this. It's</tspan><tspan x="4" dy="6">just a matter of the business</tspan><tspan x="4" dy="6">cases behind that's, that's</tspan><tspan x="4" dy="6">hasn't been built. And, and, and</tspan><tspan x="4" dy="6">some business cases can't be.</tspan><tspan x="4" dy="6">So it's a hypothesis. And then of</tspan><tspan x="4" dy="6">course, the old management has</tspan><tspan x="4" dy="6" class="f1">to agree on that hypothesis and</tspan><tspan x="4" dy="6" class="f2">this test. But again, I feel</tspan><tspan x="4" dy="6" class="f3">personally, I feel it's a, it's a</tspan></text><path class="ch" d="M34.3 130l1.2 1l1.2 -1"/></g>
<g id="fr-c8" transform="translate(290 749)"><rect class="cm" width="71" height="107"/><text class="n" x="4" y="7.5">Tobias</text><text class="b" y="16.5"><tspan x="4">And that's what every human</tspan><tspan x="4" dy="6">being would like to write. They</tspan><tspan x="4" dy="6">want to understand the future</tspan><tspan x="4" dy="6">instead of being in the here now</tspan><tspan x="4" dy="6">and then we get mental</tspan><tspan x="4" dy="6">readiness and all that stuff, but</tspan><tspan x="4" dy="6">that's what drives us. So getting</tspan><tspan x="4" dy="6">this data set of demand dates</tspan><tspan x="4" dy="6">and, and, and, and the way to</tspan><tspan x="4" dy="6">cleanse that dates and work</tspan><tspan x="4" dy="6">with it gives a pretty good</tspan><tspan x="4" dy="6">indication of behaviors for, for</tspan><tspan x="4" dy="6">customers. And that's valuable.</tspan></text><g transform="translate(4 97)"><rect class="tg" width="38" height="5"/><text class="t tG" x="2" y="3.5">future possibilities 10</text></g></g>
<g id="fr-c9" transform="translate(290 864)"><rect class="cp" width="71" height="139"/><text class="n" x="4" y="7.5">Tobias</text><text class="b" y="16.5"><tspan x="4">I have as there's two ways of</tspan><tspan x="4" dy="6">funding the the portal. Then I, I</tspan><tspan x="4" dy="6">think what I have suggested to</tspan><tspan x="4" dy="6">the to the management is that</tspan><tspan x="4" dy="6">you do a prioritized portfolio to</tspan><tspan x="4" dy="6">start with. And then when you</tspan><tspan x="4" dy="6">have enabled some of these, we</tspan><tspan x="4" dy="6">we do what we do a three layer</tspan><tspan x="4" dy="6">architecture. So you can, you</tspan><tspan x="4" dy="6">can imagine that customer</tspan><tspan x="4" dy="6">service has their own section.</tspan><tspan x="4" dy="6">We have product has their own</tspan><tspan x="4" dy="6">section in the portal. And then</tspan><tspan x="4" dy="6">when, let's say that the product</tspan><tspan x="4" dy="6">section is done, then the 1 the</tspan><tspan x="4" dy="6" class="f1">future evolution maintenance as</tspan><tspan x="4" dy="6" class="f2">I would like to call, it would be</tspan><tspan x="4" dy="6" class="f3">funded by the product. And again</tspan></text><path class="ch" d="M34.3 132l1.2 1l1.2 -1"/></g>
<g id="fr-c10" transform="translate(368 607)"><rect class="cp" width="71" height="137"/><text class="n" x="4" y="7.5">Tobias</text><text class="b" y="16.5"><tspan x="4">Oh. So the whole vision behind it</tspan><tspan x="4" dy="6">is that we want every team</tspan><tspan x="4" dy="6">member to clearly see how their</tspan><tspan x="4" dy="6">work makes a real difference in</tspan><tspan x="4" dy="6">the portal, helping them feel</tspan><tspan x="4" dy="6">more connected to our</tspan><tspan x="4" dy="6">customers. That's the whole</tspan><tspan x="4" dy="6">imagination state as I call it. So</tspan><tspan x="4" dy="6">we want to have a workplace</tspan><tspan x="4" dy="6">where it's easy to know what is</tspan><tspan x="4" dy="6">expected about who is doing</tspan><tspan x="4" dy="6">what and what is happening and</tspan><tspan x="4" dy="6">that the poor environment gives</tspan><tspan x="4" dy="6">that. And then we also want to</tspan><tspan x="4" dy="6">give every team member a place</tspan><tspan x="4" dy="6" class="f1">where they can have a</tspan><tspan x="4" dy="6" class="f2">meaningful part, part in the</tspan><tspan x="4" dy="6" class="f3">process of, to the workflow that</tspan></text><path class="ch" d="M34.3 130l1.2 1l1.2 -1"/></g>
<g id="fr-c11" transform="translate(368 749)"><rect class="cp" width="71" height="138"/><text class="n" x="4" y="7.5">Peter</text><text class="b" y="16.5"><tspan x="4">and then the two things which I</tspan><tspan x="4" dy="6">haven't heard that much of</tspan><tspan x="4" dy="6">customers, but what I foresee</tspan><tspan x="4" dy="6">myself, which I mentioned that is</tspan><tspan x="4" dy="6">around the environmental</tspan><tspan x="4" dy="6">impact in the future because</tspan><tspan x="4" dy="6">obvious that's a big topic and I</tspan><tspan x="4" dy="6">could imagine that airlines</tspan><tspan x="4" dy="6">wanna compete and compare</tspan><tspan x="4" dy="6">against other airlines on how</tspan><tspan x="4" dy="6">good they are and maybe that</tspan><tspan x="4" dy="6">could make customers choose</tspan><tspan x="4" dy="6">them instead of the competitor.</tspan><tspan x="4" dy="6">If you imagine building product</tspan><tspan x="4" dy="6">that that that that part of a wide</tspan><tspan x="4" dy="6" class="f1">variety of parameters of course</tspan><tspan x="4" dy="6" class="f2">a factor include that make sense</tspan><tspan x="4" dy="6" class="f3">in the future and then the final</tspan></text><path class="ch" d="M34.3 131l1.2 1l1.2 -1"/></g>
<g id="fr-header"><rect class="hd" x="108" y="521" width="345" height="55" fill="#fdf0cd"/><text class="ht" x="125" y="559" fill="#9b6b21">Future-readiness needs</text></g>
</g>

<!-- ============ Customer-centricity ============ -->
<g id="cluster-customer-centricity">
<rect class="box" x="503" y="580" width="360" height="365" fill="#fdf7f6" stroke="#f8dcd8"/>
<g id="cc-c1" transform="translate(531 607)"><rect class="cp" width="71" height="103"/><text class="n" x="4" y="7.5">Tobias</text><text class="b" y="16.5"><tspan x="4">As you can say, I just based on,</tspan><tspan x="4" dy="6">on all departments. And I have</tspan><tspan x="4" dy="6">also, I said that I, I have also</tspan><tspan x="4" dy="6">worked myself, I've been on the</tspan><tspan x="4" dy="6">customer side before I joined in</tspan><tspan x="4" dy="6">Fab. Then I created the</tspan><tspan x="4" dy="6">customer service and the key</tspan><tspan x="4" dy="6">account organization at in Fab.</tspan><tspan x="4" dy="6">And then I went into project</tspan><tspan x="4" dy="6">management and products. So</tspan><tspan x="4" dy="6">yeah, I, I speak a lot with, with all</tspan><tspan x="4" dy="6">the various people and from</tspan><tspan x="4" dy="6">commercial to legal to customer</tspan><tspan x="4" dy="6">experience.</tspan></text></g>
<g id="cc-c2" transform="translate(531 717)"><rect class="cp" width="71" height="110"/><text class="n" x="4" y="7.5">Tobias</text><text class="b" y="16.5"><tspan x="4">And before that, we had a lot of</tspan><tspan x="4" dy="6">talks with the account managers</tspan><tspan x="4" dy="6">and, and all the feedback we</tspan><tspan x="4" dy="6">have had from customers that</tspan><tspan x="4" dy="6">wanted a single source of truth.</tspan><tspan x="4" dy="6">They don't want it to have</tspan><tspan x="4" dy="6">separate logins and so forth. So</tspan><tspan x="4" dy="6">we achieved that by building the</tspan><tspan x="4" dy="6">border since then, how they</tspan><tspan x="4" dy="6">have been using the portal and</tspan><tspan x="4" dy="6">what they would like to maybe</tspan><tspan x="4" dy="6">get into the portal in the future.</tspan><tspan x="4" dy="6">We haven't had much talks</tspan><tspan x="4" dy="6">going around and I've talked to</tspan><tspan x="4" dy="6">James a bit about it as well.</tspan></text></g>
<g id="cc-c3" transform="translate(531 833)"><rect class="cc" width="71" height="54"/><text class="n" x="4" y="7.5">Sean</text><text class="b" y="16.5"><tspan x="4">they're building things right now</tspan><tspan x="4" dy="6">that we really don't want to</tspan><tspan x="4" dy="6">support!!</tspan></text><g transform="translate(4 36)"><rect class="tr" width="51" height="5"/><text class="t tR" x="2" y="3.5">organisational misalignment 5</text></g><g transform="translate(4 44)"><rect class="tr" width="36" height="5"/><text class="t tR" x="2" y="3.5">poor performance 5</text></g></g>
<g id="cc-c4" transform="translate(609 607)"><rect class="cc" width="70" height="101"/><text class="n" x="4" y="7.5">Tobias</text><text class="b" y="16.5"><tspan x="4">The business has, has</tspan><tspan x="4" dy="6">confirmed that they wanna go</tspan><tspan x="4" dy="6">build on the portal. But I, I feel</tspan><tspan x="4" dy="6">that the business is not 100%</tspan><tspan x="4" dy="6">aligned on how to do it. And</tspan><tspan x="4" dy="6">then that's where I'm currently</tspan><tspan x="4" dy="6">in a bit. What do you call a</tspan><tspan x="4" dy="6">pending mode in order to to</tspan><tspan x="4" dy="6">initiate all the, all the road map</tspan><tspan x="4" dy="6">stuff and, and align the road</tspan><tspan x="4" dy="6">map with the managers on until</tspan><tspan x="4" dy="6">they, they figure this out.</tspan></text><g transform="translate(4 91)"><rect class="tr" width="51" height="5"/><text class="t tR" x="2" y="3.5">organisational misalignment 5</text></g></g>
<g id="cc-c5" transform="translate(609 717)"><rect class="cc" width="70" height="149"/><text class="n" x="4" y="7.5">Jana</text><text class="b" y="16.5"><tspan x="4">Yeah. And they have to tell us,</tspan><tspan x="4" dy="6">ok. Is it direct flight? They're</tspan><tspan x="4" dy="6">only interested in or is it direct</tspan><tspan x="4" dy="6">and connection flights and so</tspan><tspan x="4" dy="6">on? So that, that's, I think they</tspan><tspan x="4" dy="6">have to understand. Yeah,</tspan><tspan x="4" dy="6">because also in the online order</tspan><tspan x="4" dy="6">module, this is very old. This</tspan><tspan x="4" dy="6">tour that has been, I think, I</tspan><tspan x="4" dy="6">don't know when it was</tspan><tspan x="4" dy="6">introduced. Yeah, 10 plus years</tspan><tspan x="4" dy="6">ago. And it, there hasn't been a</tspan><tspan x="4" dy="6">lot of changes, a few ones.</tspan><tspan x="4" dy="6">Yeah, but not, not, too, not a lot</tspan><tspan x="4" dy="6" class="f1">of them have been done in the</tspan><tspan x="4" dy="6" class="f2">past, you know, because that is</tspan><tspan x="4" dy="6" class="f3">also sometimes a feedback that</tspan><tspan x="4" dy="6" class="f4">I, that I hear is, because it's very</tspan></text><path class="ch" d="M33.8 131l1.2 1l1.2 -1"/><g transform="translate(4 139)"><rect class="tr" width="23" height="5"/><text class="t tR" x="2" y="3.5">slow pace 7</text></g></g>
<g id="cc-c6" transform="translate(609 873)"><rect class="cm" width="70" height="44"/><text class="n" x="4" y="7.5">Sean</text><text class="b" y="16.5"><tspan x="4">a platform being that customers</tspan><tspan x="4" dy="6">are able to come and at their</tspan><tspan x="4" dy="6">own value and to it.</tspan></text><g transform="translate(4 35)"><rect class="tg" width="38" height="5"/><text class="t tG" x="2" y="3.5">future possibilities 10</text></g></g>
<g id="cc-c7" transform="translate(687 607)"><rect class="cp" width="71" height="84"/><text class="n" x="4" y="7.5">John Grant</text><text class="b" y="16.5"><tspan x="4">And I quite frankly, I think that</tspan><tspan x="4" dy="6">was a bullshit answer. It wasn't</tspan><tspan x="4" dy="6">discussed with customers, or if</tspan><tspan x="4" dy="6">it was, it was only discussed</tspan><tspan x="4" dy="6">with customers who didn't</tspan><tspan x="4" dy="6">appreciate, you know, what they</tspan><tspan x="4" dy="6">were answering all the</tspan><tspan x="4" dy="6">implications. I mean, it's just,</tspan><tspan x="4" dy="6">yeah, that's not being, that's not</tspan><tspan x="4" dy="6">being close to your customer or</tspan><tspan x="4" dy="6">your market</tspan></text></g>
<g id="cc-c8" transform="translate(687 698)"><rect class="cc" width="71" height="94"/><text class="n" x="4" y="7.5">Dominique</text><text class="b" y="16.5"><tspan x="4">Was not a customer focused</tspan><tspan x="4" dy="6">was very much driven by</tspan><tspan x="4" dy="6">technology and exciting things</tspan><tspan x="4" dy="6">for developers. So from the Get</tspan><tspan x="4" dy="6">Go, which I unfortunately</tspan><tspan x="4" dy="6">witnessed when I joined, there</tspan><tspan x="4" dy="6">were major conflicts internally</tspan><tspan x="4" dy="6">because it was never designed</tspan><tspan x="4" dy="6">with the customer at the heart of</tspan><tspan x="4" dy="6">the solution</tspan></text><g transform="translate(4 78)"><rect class="tr" width="51" height="5"/><text class="t tR" x="2" y="3.5">organisational misalignment 5</text></g><g transform="translate(4 86.5)"><rect class="tr" width="36" height="5"/><text class="t tR" x="2" y="3.5">business mindset 12</text></g></g>
<g id="cc-c9" transform="translate(687 802)"><rect class="cc" width="71" height="75"/><text class="n" x="4" y="7.5">Sean</text><text class="b" y="16.5"><tspan x="4">after a number of years and that</tspan><tspan x="4" dy="6">not changing, our customers</tspan><tspan x="4" dy="6">decided to start taking more</tspan><tspan x="4" dy="6">data than they need and then do</tspan><tspan x="4" dy="6">a lot of the analysis in Excel</tspan><tspan x="4" dy="6">because the idea of coming up</tspan><tspan x="4" dy="6">to the tool became too much of</tspan><tspan x="4" dy="6">a black box for them.</tspan></text><g transform="translate(4 66)"><rect class="tr" width="36" height="5"/><text class="t tR" x="2" y="3.5">poor performance 5</text></g></g>
<g id="cc-c10" transform="translate(764 607)"><rect class="cc" width="71" height="76"/><text class="n" x="4" y="7.5">John Grant</text><text class="b" y="16.5"><tspan x="4">And the biggest, the big, quite</tspan><tspan x="4" dy="6">frankly, the biggest screwed up</tspan><tspan x="4" dy="6">thinking was about three years</tspan><tspan x="4" dy="6">ago when the CEO and the then</tspan><tspan x="4" dy="6">lady in charge of product said</tspan><tspan x="4" dy="6">that they were going to migrate</tspan><tspan x="4" dy="6">all of the analytics customers</tspan><tspan x="4" dy="6">into Metis.</tspan></text><g transform="translate(4 66)"><rect class="tr" width="36" height="5"/><text class="t tR" x="2" y="3.5">business mindset 12</text></g></g>
<g id="cc-c11" transform="translate(764 691)"><rect class="cm" width="71" height="148"/><text class="n" x="4" y="7.5">Peter</text><text class="b" y="16.5"><tspan x="4">and and that kind of lead on top</tspan><tspan x="4" dy="6">of the kind of the fourth thing</tspan><tspan x="4" dy="6">I'm in charge of which is the</tspan><tspan x="4" dy="6">online order module and this is</tspan><tspan x="4" dy="6">simply again just a tool where</tspan><tspan x="4" dy="6">the customer themselves, it's a</tspan><tspan x="4" dy="6">complete self service tool,</tspan><tspan x="4" dy="6">where the customer can create,</tspan><tspan x="4" dy="6">edit, change whatever all the</tspan><tspan x="4" dy="6">subscriptions to whatever data</tspan><tspan x="4" dy="6">they want from. and the reason</tspan><tspan x="4" dy="6">why I mentioned that is because</tspan><tspan x="4" dy="6">it's an important tool you can</tspan><tspan x="4" dy="6" class="f1">imagine because the</tspan><tspan x="4" dy="6" class="f1">subscription or the online order</tspan><tspan x="4" dy="6" class="f2">module is what defines what</tspan><tspan x="4" dy="6" class="f3">goes into the data feed, what</tspan><tspan x="4" dy="6" class="f4">goes into what goes into that's</tspan></text><path class="ch" d="M34.3 131l1.2 1l1.2 -1"/><g transform="translate(4 139)"><rect class="tg" width="23" height="5"/><text class="t tG" x="2" y="3.5">anecdote 3</text></g></g>
<g id="cc-header"><rect class="hd" x="504" y="521" width="354" height="56" fill="#f3cfcb"/><text class="ht" x="521" y="559.5" fill="#8a2215">Customer-centricity gap</text></g>
</g>

<!-- ============ Limited customer ============ -->
<g id="cluster-limited">
<rect class="box" x="900" y="581" width="203" height="129" fill="#f8f8fe" stroke="#e6e6fc"/>
<g id="lc-c1" transform="translate(927 610)"><rect class="cp" width="71" height="55"/><text class="n" x="4" y="7.5">Tobias</text><text class="b" y="16.5"><tspan x="4">Do you wish, the organization</tspan><tspan x="4" dy="6">would go more into that</tspan><tspan x="4" dy="6">direction? Really? Listening to</tspan><tspan x="4" dy="6">users and what they want doing</tspan><tspan x="4" dy="6">more research? Do you think</tspan><tspan x="4" dy="6">that would be beneficial?</tspan></text></g>
<g id="lc-c2" transform="translate(1005 610)"><rect class="cm" width="72" height="46"/><text class="n" x="4" y="7.5">Sean</text><text class="b" y="16.5"><tspan x="4">our customers don't know</tspan><tspan x="4" dy="6">what's possible until they can</tspan><tspan x="4" dy="6">see it.</tspan></text><g transform="translate(4 35.5)"><rect class="tg" width="38" height="5"/><text class="t tG" x="2" y="3.5">future possibilities 10</text></g></g>
<g id="lc-header"><rect class="hd" x="901" y="521" width="201" height="57" fill="#dcdbfa"/><text class="ht" x="917" y="559.5" fill="#1c1aa0">Limited cu...</text></g>
</g>

<!-- ============ Performance ============ -->
<g id="cluster-performance">
<rect class="box" x="1140" y="579" width="283" height="174" fill="#fdf7f6" stroke="#f8dcd8"/>
<g id="pf-c1" transform="translate(1168 607)"><rect class="cc" width="70" height="38"/><text class="n" x="4" y="7.5">Seth</text><text class="b" y="16.5"><tspan x="4">powerBI is really slow, I don't</tspan><tspan x="4" dy="6">trust it on an enterprise level</tspan></text><g transform="translate(4 28.5)"><rect class="tr" width="36" height="5"/><text class="t tR" x="2" y="3.5">poor performance 5</text></g></g>
<g id="pf-c2" transform="translate(1168 652)"><rect class="cc" width="70" height="56"/><text class="n" x="4" y="7.5">Sean</text><text class="b" y="16.5"><tspan x="4">their performance times were a</tspan><tspan x="4" dy="6">lot faster than ours were and we</tspan><tspan x="4" dy="6">were always losing the brunt of</tspan><tspan x="4" dy="6">that during tenders and</tspan><tspan x="4" dy="6">conversation with customers,</tspan></text><g transform="translate(4 48)"><rect class="tr" width="27" height="5"/><text class="t tR" x="2" y="3.5">competitors 1</text></g></g>
<g id="pf-c3" transform="translate(1246 607)"><rect class="cc" width="71" height="69"/><text class="n" x="4" y="7.5">Sean</text><text class="b" y="16.5"><tspan x="4">the DEV team has really been</tspan><tspan x="4" dy="6">focused on performance</tspan><tspan x="4" dy="6">because that's been the biggest</tspan><tspan x="4" dy="6">issue we've been having. So a</tspan><tspan x="4" dy="6">lot of future development or</tspan><tspan x="4" dy="6">even just new UX flows have</tspan><tspan x="4" dy="6">really been left behind.</tspan></text><g transform="translate(4 60)"><rect class="tr" width="36" height="5"/><text class="t tR" x="2" y="3.5">poor performance 5</text></g></g>
<g id="pf-c4" transform="translate(1246 684)"><rect class="cp" width="71" height="42"/><text class="n" x="4" y="7.5">Sean</text><text class="b" y="16.5"><tspan x="4">Surprisingly, we can see that</tspan><tspan x="4" dy="6">averagely 50% of our global</tspan><tspan x="4" dy="6">loss comes from the EMEA</tspan><tspan x="4" dy="6">region</tspan></text></g>
<g id="pf-c5" transform="translate(1324 607)"><rect class="cm" width="70" height="38"/><text class="n" x="4" y="7.5">Peter</text><text class="b" y="16.5"><tspan x="4">product def unstable drops out of</tspan><tspan x="4" dy="6">it ah</tspan></text><g transform="translate(4 28.5)"><rect class="tg" width="23" height="5"/><text class="t tG" x="2" y="3.5">anecdote 3</text></g></g>
<g id="pf-header"><rect class="hd" x="1141" y="521" width="280" height="56" fill="#f3cfcb"/><text class="ht" x="1157" y="559.5" fill="#8a2215">Performance iss...</text></g>
</g>

<!-- ============ Outliers ============ -->
<g id="cluster-outliers">
<rect class="box" x="1545" y="686" width="362" height="492" fill="#fffaf6" stroke="#fde9d8"/>
<g id="ou-c1" transform="translate(1573 716)"><rect class="cp" width="72" height="139"/><text class="n" x="4" y="7.5">Peter</text><text class="b" y="16.5"><tspan x="4">uhm so yes uh my role right now</tspan><tspan x="4" dy="6">is that I am a product manager</tspan><tspan x="4" dy="6">of our pricing products, which is</tspan><tspan x="4" dy="6">a variety of of of different</tspan><tspan x="4" dy="6">products, delivery channels and</tspan><tspan x="4" dy="6">so on and as you said before the</tspan><tspan x="4" dy="6">main one being, is still tool</tspan><tspan x="4" dy="6">where customer can simply</tspan><tspan x="4" dy="6">visualize the data in graphs in</tspan><tspan x="4" dy="6">tables and you know whatever</tspan><tspan x="4" dy="6">they want but of course export it</tspan><tspan x="4" dy="6">needed and so on. But I'm also</tspan><tspan x="4" dy="6">in charge of data feeds meaning</tspan><tspan x="4" dy="6">that if customers don't have the</tspan><tspan x="4" dy="6">need for BI tool and simply just</tspan><tspan x="4" dy="6" class="f1">want the raw data uh then they</tspan><tspan x="4" dy="6" class="f2">can get it in a in a data file, FTP</tspan><tspan x="4" dy="6" class="f3">file or whatever uh I'm also in</tspan></text><path class="ch" d="M34.8 131l1.2 1l1.2 -1"/></g>
<g id="ou-c2" transform="translate(1652 716)"><rect class="cp" width="71" height="139"/><text class="n" x="4" y="7.5">Peter</text><text class="b" y="16.5"><tspan x="4">uhm so I think headline is pricing</tspan><tspan x="4" dy="6">products I'm in charge the main</tspan><tspan x="4" dy="6">mentioned here. The way it</tspan><tspan x="4" dy="6">works is that I am I think you</tspan><tspan x="4" dy="6">could say that I have the</tspan><tspan x="4" dy="6">authority to to make things</tspan><tspan x="4" dy="6">made the way I see it or what I</tspan><tspan x="4" dy="6">believe is the need however I</tspan><tspan x="4" dy="6">think we touched this shortly on</tspan><tspan x="4" dy="6">the first, the challenge will</tspan><tspan x="4" dy="6">always be management have</tspan><tspan x="4" dy="6">ideas that budget that needs to</tspan><tspan x="4" dy="6">we need to be within to</tspan><tspan x="4" dy="6">resources that you know can</tspan><tspan x="4" dy="6">only do so much compared to</tspan><tspan x="4" dy="6" class="f1">what I want, compared to what</tspan><tspan x="4" dy="6" class="f2">other product managers want</tspan><tspan x="4" dy="6" class="f3">so I would like to be able to</tspan></text><path class="ch" d="M34.3 131l1.2 1l1.2 -1"/></g>
<g id="ou-c3" transform="translate(1729 716)"><rect class="cp" width="72" height="139"/><text class="n" x="4" y="7.5">Peter</text><text class="b" y="16.5"><tspan x="4">the direction of was for sure to</tspan><tspan x="4" dy="6">be the world leader, aha data</tspan><tspan x="4" dy="6">provider ah in the early stage of</tspan><tspan x="4" dy="6">it was you know we should be</tspan><tspan x="4" dy="6">the consultants of of the</tspan><tspan x="4" dy="6">industry, so they could just</tspan><tspan x="4" dy="6">reach out to us and we were</tspan><tspan x="4" dy="6">able to not only provide data,</tspan><tspan x="4" dy="6">but also counsel them in how</tspan><tspan x="4" dy="6">they should do stuff, give them</tspan><tspan x="4" dy="6">recommendations ah and so on</tspan><tspan x="4" dy="6">and and at some point we we</tspan><tspan x="4" dy="6">moved away from that we want</tspan><tspan x="4" dy="6">to make sure that actually</tspan><tspan x="4" dy="6">instead of doing too much we</tspan><tspan x="4" dy="6" class="f1">want to focus on being the only</tspan><tspan x="4" dy="6" class="f2">deliver the data and then you</tspan><tspan x="4" dy="6" class="f3">know take the decision and</tspan></text><path class="ch" d="M34.8 131l1.2 1l1.2 -1"/></g>
<g id="ou-c4" transform="translate(1808 716)"><rect class="cp" width="71" height="139"/><text class="n" x="4" y="7.5">Peter</text><text class="b" y="16.5"><tspan x="4">which is because maybe the</tspan><tspan x="4" dy="6">easiest and maybe that's what</tspan><tspan x="4" dy="6">they told to do by stackers or</tspan><tspan x="4" dy="6">whatever it still my impression</tspan><tspan x="4" dy="6">that's a big driver is the revenue</tspan><tspan x="4" dy="6">before we had the call on told to</tspan><tspan x="4" dy="6">build a new vision vision and for</tspan><tspan x="4" dy="6">the road and again I could hear</tspan><tspan x="4" dy="6">from Sarah saying it's important</tspan><tspan x="4" dy="6">that we don't focus on small</tspan><tspan x="4" dy="6">features that will make more</tspan><tspan x="4" dy="6">comfortable easy for the</tspan><tspan x="4" dy="6">customer we need to focus on</tspan><tspan x="4" dy="6">the big things that can be</tspan><tspan x="4" dy="6">revenue so it seems to me like a</tspan><tspan x="4" dy="6" class="f1">big focus, which but then if you</tspan><tspan x="4" dy="6" class="f2">ask me what I would hope I</tspan><tspan x="4" dy="6" class="f3">would hope that we division is of</tspan></text><path class="ch" d="M34.3 131l1.2 1l1.2 -1"/></g>
<g id="ou-c5" transform="translate(1573 859)"><rect class="cp" width="72" height="139"/><text class="n" x="4" y="7.5">Peter</text><text class="b" y="16.5"><tspan x="4">I think mostly we would measure</tspan><tspan x="4" dy="6">on how much data customers</tspan><tspan x="4" dy="6">are subscribing for, ah I think</tspan><tspan x="4" dy="6">that's that's a really important</tspan><tspan x="4" dy="6">metric so sales are looking at it</tspan><tspan x="4" dy="6">from day to day that have power</tspan><tspan x="4" dy="6">BI report where they can sort on</tspan><tspan x="4" dy="6">on customers and then they can</tspan><tspan x="4" dy="6">see transaction count and then</tspan><tspan x="4" dy="6">they see whatever that's that's</tspan><tspan x="4" dy="6">important metric also because</tspan><tspan x="4" dy="6">data it is the product that again</tspan><tspan x="4" dy="6">the new way of thinking delivery</tspan><tspan x="4" dy="6">method or whatever you want to</tspan><tspan x="4" dy="6">call it, how much data and and</tspan><tspan x="4" dy="6" class="f1">then of course because the data</tspan><tspan x="4" dy="6" class="f2">drives the revenue from our</tspan><tspan x="4" dy="6" class="f3">point of view, right? and and the</tspan></text><path class="ch" d="M34.8 131l1.2 1l1.2 -1"/></g>
<g id="ou-c6" transform="translate(1652 859)"><rect class="cp" width="71" height="139"/><text class="n" x="4" y="7.5">Peter</text><text class="b" y="16.5"><tspan x="4">and and that will only become</tspan><tspan x="4" dy="6">more and more in the future</tspan><tspan x="4" dy="6">that's for sure almost all</tspan><tspan x="4" dy="6">customers talking about it. The</tspan><tspan x="4" dy="6">most frequent collections we</tspan><tspan x="4" dy="6">have is for customer in Saudi</tspan><tspan x="4" dy="6">Arabia who has hourly</tspan><tspan x="4" dy="6">collections, so collections a day</tspan><tspan x="4" dy="6">that's the maximum we have</tspan><tspan x="4" dy="6">right now, we could do more but</tspan><tspan x="4" dy="6">that's the highest we have one</tspan><tspan x="4" dy="6">single customer right now.</tspan><tspan x="4" dy="6">multiple collections per second</tspan><tspan x="4" dy="6">thing I mention an data so</tspan><tspan x="4" dy="6">besides simply looking a t the</tspan><tspan x="4" dy="6" class="f1">like the baggage fee or fee need</tspan><tspan x="4" dy="6" class="f2">or credit card all these kind of</tspan><tspan x="4" dy="6" class="f3">that we are ... to that also</tspan></text><path class="ch" d="M34.3 131l1.2 1l1.2 -1"/></g>
<g id="ou-c7" transform="translate(1729 859)"><rect class="cp" width="72" height="139"/><text class="n" x="4" y="7.5">Peter</text><text class="b" y="16.5"><tspan x="4">is I'm I'm only speaking to the</tspan><tspan x="4" dy="6">product owner because the</tspan><tspan x="4" dy="6">setup is like on the on the</tspan><tspan x="4" dy="6">product team side there's a</tspan><tspan x="4" dy="6">product manager, on the</tspan><tspan x="4" dy="6">development side or the tech</tspan><tspan x="4" dy="6">team, which I think it's called</tspan><tspan x="4" dy="6">there are product owners, so it's</tspan><tspan x="4" dy="6">only the product manager and</tspan><tspan x="4" dy="6">product owner kind of speaks</tspan><tspan x="4" dy="6">and then whatever I tell the</tspan><tspan x="4" dy="6">product owner, he will make sure</tspan><tspan x="4" dy="6">to tell his team or whatever team</tspan><tspan x="4" dy="6">underneath him that needs to</tspan><tspan x="4" dy="6">know what to do to develop</tspan><tspan x="4" dy="6" class="f1">that's the communication, but</tspan><tspan x="4" dy="6" class="f2">most of my communication</tspan><tspan x="4" dy="6" class="f3">besides with the product</tspan></text><path class="ch" d="M34.8 131l1.2 1l1.2 -1"/></g>
<g id="ou-c8" transform="translate(1808 859)"><rect class="cp" width="71" height="97"/><text class="n" x="4" y="7.5">Nils</text><text class="b" y="16.5"><tspan x="4">The more specific it comes or</tspan><tspan x="4" dy="6">signals I think as a few, what</tspan><tspan x="4" dy="6">happened is as long as there are</tspan><tspan x="4" dy="6">others who will refine the data</tspan><tspan x="4" dy="6">and being multiple players and</tspan><tspan x="4" dy="6">there's quite a lot of investment</tspan><tspan x="4" dy="6">into AI and machine learning</tspan><tspan x="4" dy="6">that needs big volumes of data.</tspan><tspan x="4" dy="6">And I'm kind of happy because</tspan><tspan x="4" dy="6">they need the data. And the</tspan><tspan x="4" dy="6">question is, do we wanna</tspan><tspan x="4" dy="6">compete with these guys or can</tspan><tspan x="4" dy="6">we compete with these guys?</tspan></text></g>
<g id="ou-c9" transform="translate(1808 964)"><rect class="cc" width="71" height="30"/><text class="n" x="4" y="7.5">Sean</text><text class="b" y="16.5"><tspan x="4">company</tspan></text><g transform="translate(4 22)"><rect class="tr" width="36" height="5"/><text class="t tR" x="2" y="3.5">business mindset 12</text></g></g>
<g id="ou-c10" transform="translate(1573 1003)"><rect class="cc" width="72" height="94"/><text class="n" x="4" y="7.5">Seth</text><text class="b" y="16.5"><tspan x="4">You can only pull 5 yrs in the</tspan><tspan x="4" dy="6">schedules analyser tool. We did</tspan><tspan x="4" dy="6">that without a tonne of customer</tspan><tspan x="4" dy="6">input, and we didn't notify</tspan><tspan x="4" dy="6">people very well (Dominique</tspan><tspan x="4" dy="6">mentioned this!) We're</tspan><tspan x="4" dy="6">consistently giving 5-10% price</tspan><tspan x="4" dy="6">increases, and then pissing off</tspan><tspan x="4" dy="6">our customers. It was just a</tspan><tspan x="4" dy="6">choice we made... same as the</tspan><tspan x="4" dy="6">5 limit in analyser</tspan></text><g transform="translate(4 84)"><rect class="tr" width="23" height="5"/><text class="t tR" x="2" y="3.5">slow pace 7</text></g></g>
<g id="ou-c11" transform="translate(1652 1003)"><rect class="cc" width="71" height="125"/><text class="n" x="4" y="7.5">Seth</text><text class="b" y="16.5"><tspan x="4">Seth is on most of the squads,</tspan><tspan x="4" dy="6">but can't attend some of the</tspan><tspan x="4" dy="6">stuff. Feeds a lot of information</tspan><tspan x="4" dy="6">back to the product insights</tspan><tspan x="4" dy="6">team (through product board)</tspan><tspan x="4" dy="6">but to be fair... probably sent</tspan><tspan x="4" dy="6">tonnes of emails but never really</tspan><tspan x="4" dy="6">heard anything back. Always</tspan><tspan x="4" dy="6">feeds back and feeds what the</tspan><tspan x="4" dy="6">customers are saying... People</tspan><tspan x="4" dy="6">want feedback, and our</tspan><tspan x="4" dy="6">customers are always open to</tspan><tspan x="4" dy="6">beta testing... it's just we...</tspan><tspan x="4" dy="6">have a tough time bringing that to</tspan><tspan x="4" dy="6">market. We're particularly slow</tspan><tspan x="4" dy="6">to implement new features.</tspan></text><g transform="translate(4 115)"><rect class="tr" width="36" height="5"/><text class="t tR" x="2" y="3.5">business mindset 12</text></g></g>
<g id="ou-c12" transform="translate(1729 1003)"><rect class="cc" width="72" height="150"/><text class="n" x="4" y="7.5">Tobias</text><text class="b" y="16.5"><tspan x="4">And that's where we call to</tspan><tspan x="4" dy="6">come to all this management</tspan><tspan x="4" dy="6">alignment in the new</tspan><tspan x="4" dy="6">organization because it is, you</tspan><tspan x="4" dy="6">can say it was an MVP and we</tspan><tspan x="4" dy="6">launched it for in the former info</tspan><tspan x="4" dy="6">organization, but it was not fully</tspan><tspan x="4" dy="6">done. Meaning I like to call it an</tspan><tspan x="4" dy="6">innovation project. That's also</tspan><tspan x="4" dy="6">why it's now anchored in the</tspan><tspan x="4" dy="6">innovation team, which I'm a</tspan><tspan x="4" dy="6">part of it. It's not delivered to</tspan><tspan x="4" dy="6">product because it doesn't</tspan><tspan x="4" dy="6">contain all products, it doesn't</tspan><tspan x="4" dy="6" class="f1">contain all services. So it's not a</tspan><tspan x="4" dy="6" class="f2">fully working product, you can</tspan><tspan x="4" dy="6" class="f3">say, and of course, there could</tspan><tspan x="4" dy="6" class="f4">be...</tspan></text><path class="ch" d="M34.8 131l1.2 1l1.2 -1"/><g transform="translate(4 140)"><rect class="tr" width="36" height="5"/><text class="t tR" x="2" y="3.5">business mindset 12</text></g></g>
<g id="ou-header"><rect class="hd" x="1547" y="631" width="358" height="55" fill="#fadcc6"/><text class="ht" x="1564" y="669" fill="#8f4519">Outliers: These highlig...</text></g>
</g>
</svg>
